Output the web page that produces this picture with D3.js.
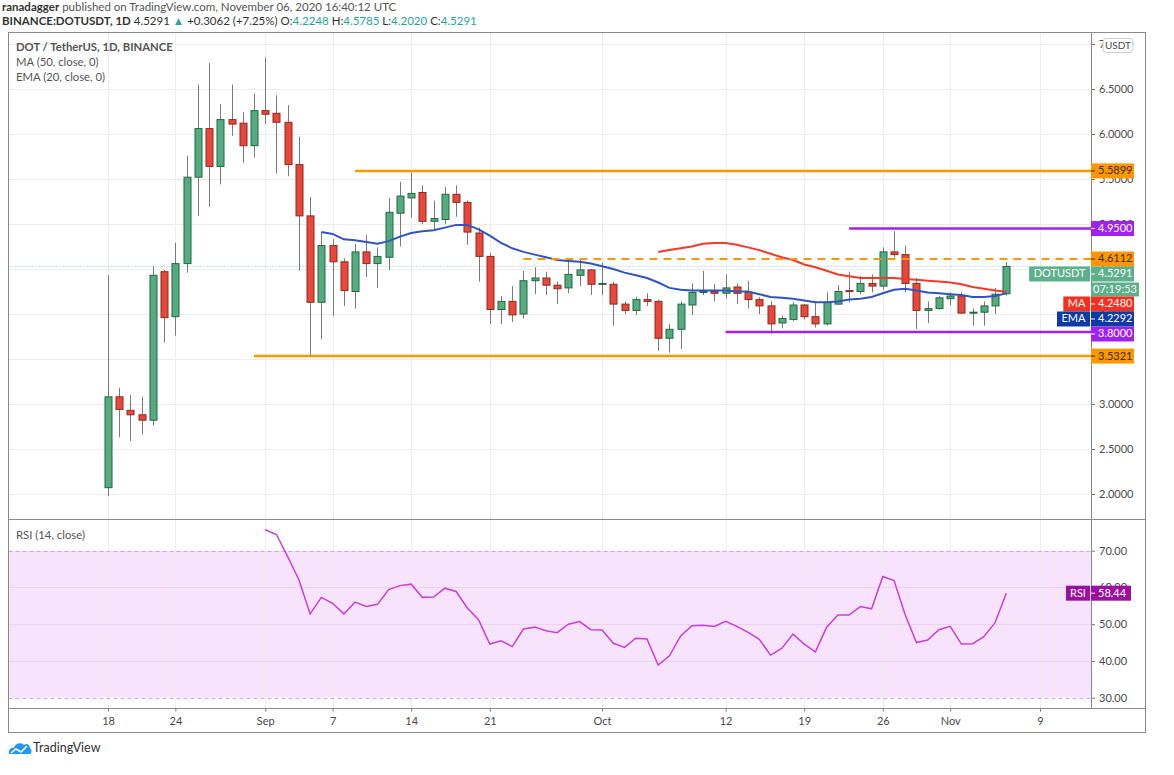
<!DOCTYPE html>
<html>
<head>
<meta charset="utf-8">
<script src="https://cdn.jsdelivr.net/npm/d3@7"></script>
<style>
body { margin: 0; background: #fff; }
svg { display: block; font-family: Lato, "Noto Sans", sans-serif; }
</style>
</head>
<body>
<svg id="chart" width="1174" height="775"></svg>
<script>
// daily candles, DOT/USDT, from 18 Aug 2020
const firstDay = "2020-08-18";
const opens = [2.07,3.08,2.93,2.88,2.82,4.47,3.97,4.56,5.52,6.06,5.64,6.16,6.12,5.87,6.26,6.23,6.13,5.66,5.09,4.13,
  4.76,4.58,4.25,4.69,4.56,4.63,5.12,5.29,5.35,5.03,5.05,5.33,5.24,4.90,4.64,4.05,4.14,4.00,4.37,4.40,
  4.32,4.29,4.43,4.49,4.33,4.33,4.11,4.04,4.16,4.14,3.73,3.83,4.10,4.24,4.25,4.23,4.30,4.24,4.16,4.09,
  3.90,3.94,4.10,3.97,3.89,4.11,4.26,4.25,4.34,4.31,4.69,4.66,4.34,4.04,4.06,4.17,4.20,4.01,4.02,4.09,4.2248];
const highs = [4.43,3.18,3.10,3.08,4.53,4.49,4.79,5.76,6.55,6.79,6.33,6.55,6.24,6.45,6.85,6.43,6.32,5.97,5.30,4.91,
  4.83,4.62,4.78,4.88,4.74,5.29,5.47,5.57,5.43,5.26,5.41,5.43,5.26,4.96,4.68,4.20,4.31,4.48,4.52,4.47,
  4.36,4.59,4.60,4.50,4.57,4.36,4.14,4.19,4.23,4.16,3.89,4.14,4.34,4.48,4.33,4.44,4.34,4.37,4.19,4.14,
  3.98,4.13,4.11,4.13,4.24,4.32,4.47,4.42,4.44,4.74,4.92,4.76,4.40,4.14,4.20,4.24,4.24,4.06,4.14,4.29,4.5785];
const lows = [1.98,2.63,2.59,2.66,2.76,3.68,3.76,4.46,5.09,5.19,5.44,5.98,5.68,5.74,6.11,5.56,5.53,4.48,3.52,3.72,
  3.98,4.09,4.06,4.41,4.29,4.49,4.75,5.07,5.00,4.93,5.00,5.08,4.77,4.36,3.89,3.89,3.91,3.95,4.22,4.21,
  4.11,4.23,4.31,4.21,4.21,3.87,4.00,3.99,4.09,3.59,3.57,3.61,3.99,4.21,4.14,4.17,4.11,4.06,4.00,3.78,
  3.84,3.92,3.94,3.85,3.87,4.10,4.13,4.22,4.24,4.27,4.63,4.24,3.83,3.90,4.05,4.10,4.00,3.87,3.87,4.00,4.2020];
const closes = [3.08,2.94,2.88,2.82,4.43,3.96,4.56,5.52,6.06,5.64,6.16,6.11,5.87,6.26,6.22,6.13,5.66,5.09,4.13,4.76,
  4.58,4.26,4.69,4.56,4.64,5.13,5.31,5.34,5.03,5.06,5.33,5.24,4.91,4.64,4.05,4.14,3.99,4.37,4.40,4.32,
  4.28,4.44,4.49,4.33,4.34,4.11,4.04,4.16,4.14,3.73,3.83,4.11,4.24,4.25,4.23,4.29,4.23,4.16,4.09,3.89,
  3.95,4.10,3.97,3.89,4.13,4.25,4.25,4.34,4.31,4.69,4.66,4.34,4.04,4.06,4.18,4.20,4.01,4.02,4.09,4.22,4.5291];

// indicator values (start = candle index of first value)
const maStart = 49;
const ma50 = [4.69,4.71,4.73,4.75,4.78,4.79,4.79,4.77,4.74,4.71,4.67,4.63,4.60,4.55,4.52,4.48,4.44,4.42,4.40,4.40,
  4.40,4.40,4.39,4.38,4.37,4.36,4.35,4.33,4.30,4.28,4.26,4.248];
const emaStart = 19;
const ema20 = [4.91,4.89,4.83,4.82,4.80,4.78,4.81,4.86,4.90,4.92,4.93,4.96,4.99,4.99,4.94,4.87,4.79,4.73,4.69,4.66,
  4.63,4.60,4.59,4.58,4.56,4.53,4.50,4.46,4.43,4.40,4.35,4.29,4.27,4.26,4.26,4.26,4.26,4.25,4.25,4.22,
  4.19,4.18,4.17,4.15,4.13,4.13,4.14,4.16,4.17,4.19,4.23,4.27,4.28,4.26,4.24,4.23,4.22,4.21,4.19,4.19,
  4.20,4.2292];
const rsiStart = 14;
const rsi14 = [75.7,74.4,68.4,62.1,52.8,57.3,55.7,52.8,56.0,54.8,55.4,59.4,60.5,60.9,57.3,57.4,59.8,58.9,54.4,51.2,
  44.6,45.5,43.9,48.7,49.2,48.2,47.7,50.0,50.7,48.5,48.4,44.8,43.7,46.2,46.0,38.9,41.4,46.8,49.6,49.7,
  49.4,50.8,49.4,47.8,45.9,41.6,43.4,47.3,44.6,42.5,49.2,52.5,52.5,54.8,54.2,63.0,61.9,52.5,45.0,45.7,
  48.5,49.4,44.6,44.7,46.6,50.4,58.44];

// drawn levels
const levelValues = [5.5899, 4.9500, 4.6112, 3.8000, 3.5321];
const levelFrom = ["2020-09-09", "2020-10-23", "2020-09-24", "2020-10-12", "2020-08-31"];
const levelKinds = ["orange", "purple", "orangeDash", "purple", "orange"];

const priceTicks = [2, 2.5, 3, 3.5, 4, 4.5, 5, 5.5, 6, 6.5, 7];
const rsiTicks = [30, 40, 50, 60, 70];
const tickDates = ["2020-08-18","2020-08-24","2020-09-01","2020-09-07","2020-09-14","2020-09-21",
  "2020-10-01","2020-10-12","2020-10-19","2020-10-26","2020-11-01","2020-11-09"];
const tickLabels = ["18","24","Sep","7","14","21","Oct","12","19","26","Nov","9"];

const lastPrice = 4.5291, maLast = 4.2480, emaLast = 4.2292;

// ---------- layout ----------
const svg = d3.select("#chart");
const frame = {left: 8.5, top: 32.5, right: 1145.5, bottom: 732.5};
const axisX = 1091;
const mainTop = 32.5, mainBottom = 519.5, rsiBottom = 708.5;

const parse = d3.utcParse("%Y-%m-%d");
const day0 = parse(firstDay);
const dates = opens.map((d, i) => d3.utcDay.offset(day0, i));

const x = d3.scaleUtc()
  .domain([parse("2020-08-18"), parse("2020-11-09")])
  .range([108, 1040]);
const y = d3.scaleLinear().domain([2, 6.5]).range([494, 89]);
const ry = d3.scaleLinear().domain([30, 70]).range([697.7, 550.7]);

const gridColor = "#ececec";
const textColor = "#4a4a4a";

// header
const head = svg.append("g").style("font-size", "11.5px");
head.append("text").attr("x", 2).attr("y", 11).attr("fill", "#555")
  .call(t => {
    t.append("tspan").attr("font-weight", "bold").attr("fill", "#333").text("ranadagger");
    t.append("tspan").text(" published on TradingView.com, November 06, 2020 16:40:12 UTC");
  });
const teal = "#26a69a";
head.append("text").attr("x", 2).attr("y", 25).attr("fill", "#333")
  .call(t => {
    t.append("tspan").attr("font-weight", "bold").text("BINANCE:DOTUSDT, 1D");
    t.append("tspan").text(" 4.5291 ");
    t.append("tspan").attr("fill", teal).text("▲");
    t.append("tspan").text(" +0.3062 (+7.25%) O:");
    t.append("tspan").attr("fill", teal).text("4.2248");
    t.append("tspan").text(" H:");
    t.append("tspan").attr("fill", teal).text("4.5785");
    t.append("tspan").text(" L:");
    t.append("tspan").attr("fill", teal).text("4.2020");
    t.append("tspan").text(" C:");
    t.append("tspan").attr("fill", teal).text("4.5291");
  });

// rsi band
svg.append("rect")
  .attr("x", frame.left).attr("width", axisX - frame.left)
  .attr("y", ry(70)).attr("height", ry(30) - ry(70))
  .attr("fill", "#f8e3fc");

// grid
const grid = svg.append("g");
grid.selectAll("line.v").data(tickDates).enter().append("line")
  .attr("x1", d => Math.round(x(parse(d))) + 0.5).attr("x2", d => Math.round(x(parse(d))) + 0.5)
  .attr("y1", mainTop).attr("y2", rsiBottom)
  .attr("stroke", gridColor);
grid.selectAll("line.h").data(priceTicks).enter().append("line")
  .attr("x1", frame.left).attr("x2", axisX)
  .attr("y1", d => Math.round(y(d)) + 0.5).attr("y2", d => Math.round(y(d)) + 0.5)
  .attr("stroke", gridColor);
grid.selectAll("line.r").data([40, 50, 60]).enter().append("line")
  .attr("x1", frame.left).attr("x2", axisX)
  .attr("y1", d => Math.round(ry(d)) + 0.5).attr("y2", d => Math.round(ry(d)) + 0.5)
  .attr("stroke", "#ead3ef");
svg.selectAll("line.band").data([70, 30]).enter().append("line")
  .attr("x1", frame.left).attr("x2", axisX)
  .attr("y1", d => Math.round(ry(d)) + 0.5).attr("y2", d => Math.round(ry(d)) + 0.5)
  .attr("stroke", "#c9a9cf").attr("stroke-dasharray", "4,3");

// pane legends
const leg = svg.append("g").style("font-size", "11.3px").attr("fill", "#555");
leg.append("text").attr("x", 16).attr("y", 51).attr("font-weight", "bold").text("DOT / TetherUS, 1D, BINANCE");
leg.append("text").attr("x", 16).attr("y", 66).text("MA (50, close, 0)");
leg.append("text").attr("x", 16).attr("y", 81).text("EMA (20, close, 0)");
leg.append("text").attr("x", 16).attr("y", 539).text("RSI (14, close)");

// clip to price pane
svg.append("clipPath").attr("id", "mainclip").append("rect")
  .attr("x", frame.left).attr("y", mainTop).attr("width", axisX - frame.left).attr("height", mainBottom - mainTop);
const main = svg.append("g").attr("clip-path", "url(#mainclip)");

// last price dotted line
main.append("line")
  .attr("x1", frame.left).attr("x2", axisX)
  .attr("y1", y(lastPrice)).attr("y2", y(lastPrice))
  .attr("stroke", "#86c9a6").attr("stroke-dasharray", "1,2");

// candles
const candles = main.append("g").selectAll("g").data(dates).enter().append("g");
candles.append("line")
  .attr("x1", d => Math.round(x(d)) + 0.5).attr("x2", d => Math.round(x(d)) + 0.5)
  .attr("y1", (d, i) => y(highs[i])).attr("y2", (d, i) => y(lows[i]))
  .attr("stroke", "#7a7a7a");
candles.append("rect")
  .attr("x", d => Math.round(x(d)) - 3)
  .attr("width", 7)
  .attr("y", (d, i) => y(Math.max(opens[i], closes[i])))
  .attr("height", (d, i) => Math.max(1, Math.abs(y(opens[i]) - y(closes[i]))))
  .attr("fill", (d, i) => closes[i] >= opens[i] ? "#55ab80" : "#e8473a")
  .attr("stroke", (d, i) => closes[i] >= opens[i] ? "#21693f" : "#8e2a1e")
  .attr("stroke-width", 1);

// moving averages
const lineGen = d3.line().x(d => x(d[0])).y(d => y(d[1]));
main.append("path")
  .datum(ma50.map((v, i) => [dates[maStart + i], v]))
  .attr("d", lineGen).attr("fill", "none").attr("stroke", "#f2392a").attr("stroke-width", 2);
main.append("path")
  .datum(ema20.map((v, i) => [dates[emaStart + i], v]))
  .attr("d", lineGen).attr("fill", "none").attr("stroke", "#2f55c0").attr("stroke-width", 2);

// horizontal levels
const levelColor = {orange: "#ff9800", orangeDash: "#ff9800", purple: "#a020f0"};
main.selectAll("line.lvl").data(levelValues).enter().append("line")
  .attr("x1", (d, i) => x(parse(levelFrom[i]))).attr("x2", axisX)
  .attr("y1", d => y(d)).attr("y2", d => y(d))
  .attr("stroke", (d, i) => levelColor[levelKinds[i]])
  .attr("stroke-width", (d, i) => levelKinds[i] === "orangeDash" ? 2 : 2.5)
  .attr("stroke-dasharray", (d, i) => levelKinds[i] === "orangeDash" ? "8,6" : null);

// rsi line
const rsiLine = d3.line().x(d => x(d[0])).y(d => ry(d[1]));
svg.append("path")
  .datum(rsi14.map((v, i) => [dates[rsiStart + i], v]))
  .attr("d", rsiLine).attr("fill", "none").attr("stroke", "#c63fd6").attr("stroke-width", 1.5);

// axes
function styleAxis(g) {
  g.select(".domain").remove();
  g.selectAll(".tick line").attr("stroke", "#777");
  g.selectAll(".tick text").attr("fill", textColor).style("font-size", "11px")
    .style("font-family", "Lato, sans-serif");
}
svg.append("g").attr("transform", `translate(${axisX},0)`)
  .call(d3.axisRight(y).tickValues(priceTicks).tickFormat(d3.format(".4f")).tickSize(4).tickPadding(4))
  .call(styleAxis);
svg.append("g").attr("transform", `translate(${axisX},0)`)
  .call(d3.axisRight(ry).tickValues(rsiTicks).tickFormat(d3.format(".2f")).tickSize(4).tickPadding(4))
  .call(styleAxis);
svg.append("g").attr("transform", `translate(0,${rsiBottom})`)
  .call(d3.axisBottom(x).tickValues(tickDates.map(parse)).tickFormat((d, i) => tickLabels[i]).tickSize(3).tickPadding(6))
  .call(styleAxis);

// frame & separators
const lines = svg.append("g").attr("stroke", "#8a8a8a").attr("fill", "none");
lines.append("rect").attr("x", frame.left).attr("y", frame.top)
  .attr("width", frame.right - frame.left).attr("height", frame.bottom - frame.top);
lines.append("line").attr("x1", frame.left).attr("x2", frame.right).attr("y1", mainBottom).attr("y2", mainBottom);
lines.append("line").attr("x1", frame.left).attr("x2", frame.right).attr("y1", rsiBottom).attr("y2", rsiBottom);
lines.append("line").attr("x1", axisX + 0.5).attr("x2", axisX + 0.5).attr("y1", frame.top).attr("y2", rsiBottom);

// USDT badge
svg.append("rect").attr("x", 1103).attr("y", 38.5).attr("width", 30).attr("height", 14).attr("rx", 3)
  .attr("fill", "#fff").attr("stroke", "#ccc");
svg.append("text").attr("x", 1118).attr("y", 49).attr("text-anchor", "middle")
  .attr("fill", textColor).style("font-size", "10px").text("USDT");

// price-scale labels (stacked so they don't overlap)
const boxH = 15;
const labels = [
  {v: 5.5899, text: "5.5899", fill: "#ff9800", color: "#3a2a00"},
  {v: 4.9500, text: "4.9500", fill: "#a020f0", color: "#fff"},
  {v: 4.6112, text: "4.6112", fill: "#ff9800", color: "#3a2a00"},
  {v: lastPrice, text: "4.5291", fill: "#5cb08a", color: "#fff", tag: "DOTUSDT", sub: "07:19:53", n: 2},
  {v: maLast, text: "4.2480", fill: "#f5301e", color: "#fff", tag: "MA"},
  {v: emaLast, text: "4.2292", fill: "#0e3aa5", color: "#fff", tag: "EMA"},
  {v: 3.8000, text: "3.8000", fill: "#a020f0", color: "#fff"},
  {v: 3.5321, text: "3.5321", fill: "#ff9800", color: "#3a2a00"}
];
let prevBottom = -Infinity;
labels.forEach(l => {
  l.top = Math.max(y(l.v) - boxH / 2, prevBottom);
  prevBottom = l.top + boxH * (l.n || 1);
});
const lab = svg.append("g").style("font-size", "11px");
labels.forEach(l => {
  lab.append("rect").attr("x", axisX).attr("y", l.top).attr("width", 43).attr("height", boxH).attr("fill", l.fill);
  lab.append("line").attr("x1", axisX).attr("x2", axisX + 4)
    .attr("y1", l.top + boxH / 2).attr("y2", l.top + boxH / 2).attr("stroke", l.color);
  lab.append("text").attr("x", axisX + 7).attr("y", l.top + 11).attr("fill", l.color).text(l.text);
  if (l.tag) {
    const tt = lab.append("text").attr("y", l.top + 11).attr("text-anchor", "middle")
      .attr("fill", l.color).text(l.tag);
    const w = tt.node().getComputedTextLength() + 10;
    lab.insert("rect", "text:last-child").attr("x", axisX - w).attr("y", l.top)
      .attr("width", w - 1).attr("height", boxH).attr("fill", l.fill);
    tt.attr("x", axisX - w / 2 - 0.5);
  }
  if (l.sub) {
    lab.append("rect").attr("x", axisX).attr("y", l.top + boxH + 1).attr("width", 48).attr("height", boxH - 1).attr("fill", l.fill);
    lab.append("text").attr("x", axisX + 24).attr("y", l.top + boxH + 12).attr("text-anchor", "middle")
      .attr("fill", l.color).text(l.sub);
  }
});

// rsi value label
const rsiLast = rsi14[rsi14.length - 1];
const rTop = ry(rsiLast) - boxH / 2;
lab.append("rect").attr("x", 1066).attr("y", rTop).attr("width", 24).attr("height", boxH).attr("fill", "#9c0f9f");
lab.append("text").attr("x", 1078).attr("y", rTop + 11).attr("text-anchor", "middle").attr("fill", "#fff").text("RSI");
lab.append("rect").attr("x", axisX).attr("y", rTop).attr("width", 40).attr("height", boxH).attr("fill", "#9c0f9f");
lab.append("line").attr("x1", axisX).attr("x2", axisX + 4).attr("y1", rTop + boxH / 2).attr("y2", rTop + boxH / 2).attr("stroke", "#fff");
lab.append("text").attr("x", axisX + 7).attr("y", rTop + 11).attr("fill", "#fff").text(d3.format(".2f")(rsiLast));

// TradingView mark
const logo = svg.append("g").attr("transform", "translate(8,741)");
logo.append("path")
  .attr("d", "M1,13 C0,9 3,6 6,7 C7,2 13,1 16,4 C18,2 22,3 22,7 C24,8 24,12 22,13 Z")
  .attr("fill", "#2196f3");
logo.append("path").attr("d", "M3,12 L8,8 L13,11 L19,5").attr("fill", "none").attr("stroke", "#fff").attr("stroke-width", 1.6);
svg.append("text").attr("x", 33).attr("y", 752).attr("fill", "#333").style("font-size", "12.5px").text("TradingView");
</script>
</body>
</html>
